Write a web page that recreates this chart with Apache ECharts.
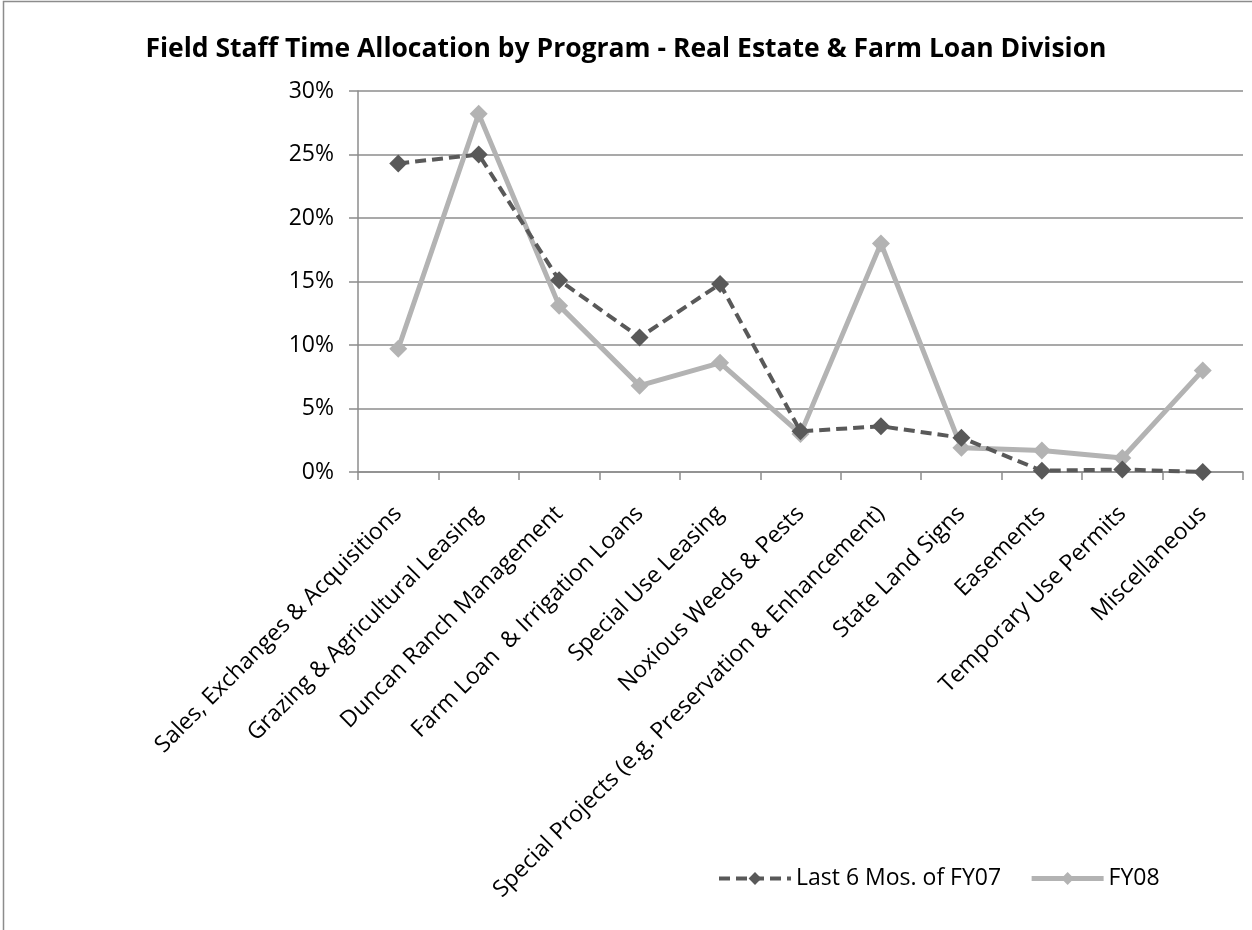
<!DOCTYPE html>
<html>
<head>
<meta charset="utf-8">
<script src="https://cdn.jsdelivr.net/npm/echarts@6/dist/echarts.min.js"></script>
<style>
  html, body { margin: 0; padding: 0; background: #fff; }
  #chart { width: 1252px; height: 930px; }
</style>
</head>
<body>
<div id="chart"></div>
<script>
// Program categories along the horizontal axis
const programs = [
  'Sales, Exchanges & Acquisitions',
  'Grazing & Agricultural Leasing',
  'Duncan Ranch Management',
  'Farm Loan  & Irrigation Loans',
  'Special Use Leasing',
  'Noxious Weeds & Pests',
  'Special Projects (e.g. Preservation & Enhancement)',
  'State Land Signs',
  'Easements',
  'Temporary Use Permits',
  'Miscellaneous'
];

// Share of field staff time (percent)
const lastSixMonthsFY07 = [24.3, 25.0, 15.1, 10.6, 14.8, 3.2, 3.6, 2.7, 0.1, 0.2, 0.0];
const fy08 = [9.7, 28.2, 13.1, 6.8, 8.6, 3.0, 18.0, 1.9, 1.7, 1.1, 8.0];

const seriesNames = ['Last 6 Mos. of FY07', 'FY08'];
const yTicks = [0, 5, 10, 15, 20, 25, 30];

const FONT = '"Open Sans", "Liberation Sans", sans-serif';
const DARK = '#595959';
const LIGHT = '#b3b3b3';
const DASH = [11, 6];

const chart = echarts.init(document.getElementById('chart'), null, { renderer: 'canvas' });

chart.setOption({
  backgroundColor: '#ffffff',
  animation: false,
  graphic: [{
    type: 'rect',
    silent: true,
    shape: { x: 3.5, y: 1.5, width: 1400, height: 1100 },
    style: { fill: 'none', stroke: '#8c8c8c', lineWidth: 1.5 }
  }],
  title: {
    text: 'Field Staff Time Allocation by Program - Real Estate & Farm Loan Division',
    left: 'center',
    top: 31,
    textStyle: { fontFamily: FONT, fontWeight: 'bold', fontSize: 26.5, color: '#000' }
  },
  legend: {
    data: [
      { name: seriesNames[0], lineStyle: { width: 4, type: DASH } },
      { name: seriesNames[1], lineStyle: { width: 5 } }
    ],
    left: 712,
    top: 862,
    itemWidth: 72,
    itemHeight: 16,
    itemGap: 28,
    textStyle: { fontFamily: FONT, fontSize: 23, color: '#000' }
  },
  grid: { left: 358, right: 9, top: 91, bottom: 458, containLabel: false },
  xAxis: {
    type: 'category',
    data: programs,
    boundaryGap: true,
    axisLine: { lineStyle: { color: '#8c8c8c', width: 1.5 } },
    axisTick: { show: true, length: 8, alignWithLabel: false, lineStyle: { color: '#8c8c8c', width: 1.5 } },
    axisLabel: {
      interval: 0,
      rotate: 45,
      margin: 38,
      fontFamily: FONT,
      fontSize: 23,
      color: '#000'
    }
  },
  yAxis: {
    type: 'value',
    min: yTicks[0],
    max: yTicks[yTicks.length - 1],
    interval: 5,
    axisLine: { show: true, lineStyle: { color: '#8c8c8c', width: 1.5 } },
    axisTick: { show: true, length: 9, lineStyle: { color: '#8c8c8c', width: 1.5 } },
    axisLabel: { formatter: '{value}%', margin: 24, fontFamily: FONT, fontSize: 23, color: '#000' },
    splitLine: { show: true, lineStyle: { color: '#8c8c8c', width: 1.5 } }
  },
  series: [
    {
      name: seriesNames[0],
      type: 'line',
      data: lastSixMonthsFY07,
      symbol: 'diamond',
      symbolSize: 18,
      z: 3,
      itemStyle: { color: DARK },
      lineStyle: { color: DARK, width: 4, type: DASH }
    },
    {
      name: seriesNames[1],
      type: 'line',
      data: fy08,
      symbol: 'diamond',
      symbolSize: 18,
      z: 2,
      itemStyle: { color: LIGHT },
      lineStyle: { color: LIGHT, width: 5 }
    }
  ]
});
</script>
</body>
</html>
